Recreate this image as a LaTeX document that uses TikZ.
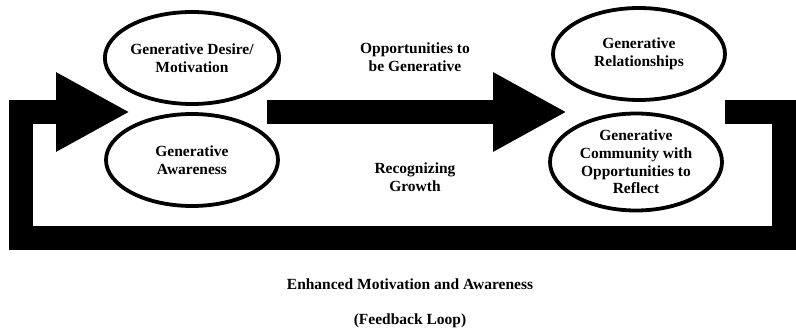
\documentclass[tikz,border=0pt]{standalone}
\usepackage{fontspec}
\setmainfont{Liberation Serif}
\usetikzlibrary{shapes.geometric, arrows.meta, positioning}
\tikzset{
  goal/.style={draw, ellipse, line width=3.8pt, inner sep=0pt, minimum width=172pt, minimum height=92pt, align=center, font=\fontsize{15.5}{17.7}\selectfont\bfseries},
  caption/.style={align=center, font=\fontsize{15.5}{17.7}\selectfont\bfseries},
  blockarrow/.style={line width=24pt, line join=miter, -{Triangle[length=74pt,width=74pt]}}
}
\begin{document}
\begin{tikzpicture}[x=1pt, y=-1pt]
\useasboundingbox (0,0) rectangle (796,329);
% ellipses
\node[goal] (desire) at (192,58) {Generative Desire/\\Motivation};
\node[goal] (aware) at (192,160) {Generative\\Awareness};
\node[goal] (relation) at (639,54) {Generative\\Relationships};
\node[goal, minimum height=97pt] (community) at (636,162) {Generative\\Community with\\Opportunities to\\Reflect};
% labels
\node[caption] (opps) at (415,57) {Opportunities to\\be Generative};
\node[caption] (growth) at (415,177) {Recognizing\\Growth};
\node[caption] (enhanced) at (410,284) {Enhanced Motivation and Awareness};
\node[caption] (feedback) at (410,321) {(Feedback Loop)};
% arrows
\coordinate (midstart) at (267,112);
\coordinate (midtip) at (567,112);
\coordinate (loopstart) at (725,112);
\coordinate (looptip) at (130,112);
\draw[blockarrow] (midstart) -- (midtip);
\draw[blockarrow] (loopstart) -- (784,112) -- (784,238) -- (21,238) -- (21,112) -- (looptip); %feedback loop
\end{tikzpicture}
\end{document}
